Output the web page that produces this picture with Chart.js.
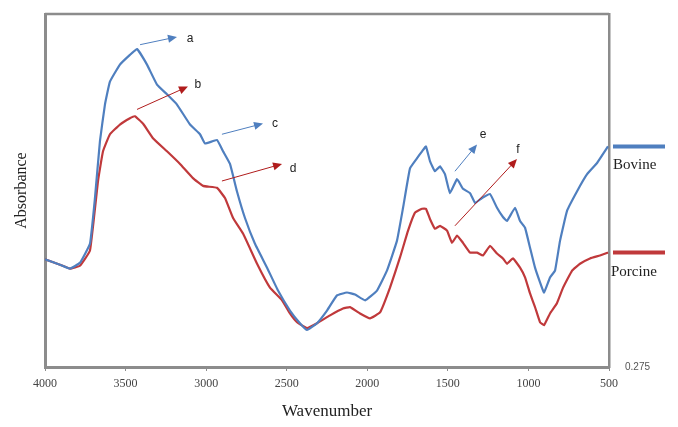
<!DOCTYPE html>
<html>
<head>
<meta charset="utf-8">
<script src="https://cdn.jsdelivr.net/npm/chart.js@4.4.1/dist/chart.umd.min.js"></script>
<style>
  html, body { margin: 0; padding: 0; background: #fff; }
  #wrap { width: 678px; height: 427px; }
</style>
</head>
<body>
<div id="wrap"><canvas id="ftir" width="678" height="427"></canvas></div>
<script>
// x : wavenumber (cm-1), y : absorbance
const bovineWn = [4000, 3907, 3845, 3783, 3721, 3690, 3659, 3628, 3597, 3535, 3473, 3429, 3367, 3305, 3243, 3181,
  3100, 3038, 3007, 2933, 2895, 2852, 2809, 2759, 2697, 2622, 2554, 2480, 2418, 2374, 2312, 2250, 2188, 2126,
  2076, 2014, 1940, 1878, 1816, 1778, 1735, 1691, 1660, 1636, 1611, 1580, 1549, 1518, 1487, 1443, 1406, 1362,
  1331, 1288, 1238, 1195, 1158, 1133, 1083, 1052, 1021, 990, 959, 928, 903, 866, 835, 804, 760, 698, 636, 574, 506];
const bovineAbs = [0.496, 0.485, 0.477, 0.489, 0.528, 0.622, 0.739, 0.814, 0.861, 0.896, 0.916, 0.928, 0.896, 0.855,
  0.835, 0.814, 0.773, 0.753, 0.734, 0.741, 0.718, 0.692, 0.636, 0.581, 0.528, 0.479, 0.432, 0.391, 0.365, 0.351,
  0.365, 0.391, 0.422, 0.428, 0.424, 0.412, 0.432, 0.473, 0.534, 0.602, 0.683, 0.704, 0.718, 0.728, 0.698, 0.677,
  0.687, 0.671, 0.632, 0.661, 0.641, 0.632, 0.612, 0.622, 0.630, 0.602, 0.583, 0.575, 0.602, 0.575, 0.561, 0.520,
  0.479, 0.449, 0.428, 0.459, 0.473, 0.534, 0.596, 0.636, 0.671, 0.694, 0.728];

const porcineWn = [4000, 3907, 3845, 3783, 3721, 3671, 3640, 3597, 3535, 3473, 3442, 3392, 3330, 3243, 3162, 3082,
  3019, 2933, 2883, 2833, 2771, 2684, 2604, 2529, 2480, 2436, 2374, 2312, 2231, 2151, 2107, 2045, 1983, 1921,
  1859, 1797, 1747, 1704, 1660, 1636, 1611, 1580, 1549, 1505, 1474, 1443, 1406, 1362, 1319, 1282, 1238, 1195,
  1158, 1133, 1096, 1052, 1021, 990, 959, 928, 903, 866, 823, 785, 729, 680, 618, 556, 506];
const porcineAbs = [0.496, 0.485, 0.477, 0.483, 0.514, 0.657, 0.718, 0.753, 0.773, 0.786, 0.790, 0.775, 0.745, 0.718,
  0.692, 0.663, 0.647, 0.643, 0.622, 0.581, 0.549, 0.487, 0.438, 0.412, 0.385, 0.367, 0.355, 0.365, 0.381, 0.395,
  0.398, 0.385, 0.375, 0.387, 0.438, 0.500, 0.555, 0.592, 0.600, 0.600, 0.579, 0.559, 0.565, 0.555, 0.530, 0.545,
  0.530, 0.510, 0.510, 0.504, 0.524, 0.508, 0.498, 0.487, 0.498, 0.479, 0.459, 0.426, 0.398, 0.367, 0.361, 0.385,
  0.406, 0.438, 0.473, 0.487, 0.498, 0.504, 0.510];

const xTicks = [4000, 3500, 3000, 2500, 2000, 1500, 1000, 500];
const yLabel = "0.275";
const seriesNames = ["Bovine", "Porcine"];
const seriesColors = ["#4f7fbf", "#c0393b"];

// band labels : letter, series, arrow start, arrow end, letter position
const bandLabels = ["a", "b", "c", "d", "e", "f"];
const bandSeries = [0, 1, 0, 1, 0, 1];
const bandFrom = [[3410, 0.937], [3429, 0.804], [2902, 0.753], [2902, 0.657], [1456, 0.677], [1456, 0.565]];
const bandTo = [[3181, 0.953], [3113, 0.851], [2647, 0.775], [2529, 0.692], [1319, 0.732], [1071, 0.702]];
const bandText = [[3100, 0.949], [3051, 0.855], [2573, 0.775], [2461, 0.683], [1282, 0.753], [1065, 0.722]];

function toPoints(xs, ys) {
  return xs.map(function(x, i) { return { x: x, y: ys[i] }; });
}

const frameColor = "#8c8c8c";

const decorPlugin = {
  id: "decor",
  afterDatasetsDraw: function(chart) {
    const ctx = chart.ctx;
    const area = chart.chartArea;
    const xs = chart.scales.x;
    const ys = chart.scales.y;

    // top frame line
    ctx.save();
    ctx.strokeStyle = frameColor;
    ctx.lineWidth = 2.5;
    ctx.beginPath();
    ctx.moveTo(area.left, area.top);
    ctx.lineTo(area.right, area.top);
    ctx.stroke();

    // arrows + letters
    ctx.font = "12px 'Liberation Sans', Arial, sans-serif";
    ctx.textAlign = "center";
    ctx.textBaseline = "middle";
    bandLabels.forEach(function(lab, i) {
      const col = bandSeries[i] === 0 ? "#4f7fbf" : "#b01c1c";
      const x1 = xs.getPixelForValue(bandFrom[i][0]), y1 = ys.getPixelForValue(bandFrom[i][1]);
      const x2 = xs.getPixelForValue(bandTo[i][0]), y2 = ys.getPixelForValue(bandTo[i][1]);
      const ang = Math.atan2(y2 - y1, x2 - x1);
      ctx.strokeStyle = col;
      ctx.fillStyle = col;
      ctx.lineWidth = 1;
      ctx.beginPath();
      ctx.moveTo(x1, y1);
      ctx.lineTo(x2 - 7 * Math.cos(ang), y2 - 7 * Math.sin(ang));
      ctx.stroke();
      ctx.beginPath();
      ctx.moveTo(x2, y2);
      ctx.lineTo(x2 - 9 * Math.cos(ang) + 4 * Math.sin(ang), y2 - 9 * Math.sin(ang) - 4 * Math.cos(ang));
      ctx.lineTo(x2 - 9 * Math.cos(ang) - 4 * Math.sin(ang), y2 - 9 * Math.sin(ang) + 4 * Math.cos(ang));
      ctx.closePath();
      ctx.fill();
      ctx.fillStyle = "#222";
      ctx.fillText(lab, xs.getPixelForValue(bandText[i][0]), ys.getPixelForValue(bandText[i][1]));
    });

    // legend at the end of each curve
    ctx.font = "15px 'Liberation Serif', 'Times New Roman', serif";
    ctx.textAlign = "left";
    ctx.textBaseline = "middle";
    chart.data.datasets.forEach(function(ds, i) {
      const last = ds.data[ds.data.length - 1];
      const y = ys.getPixelForValue(last.y);
      ctx.strokeStyle = seriesColors[i];
      ctx.lineWidth = 4;
      ctx.beginPath();
      ctx.moveTo(area.right + 4, y);
      ctx.lineTo(area.right + 56, y);
      ctx.stroke();
      ctx.fillStyle = "#222";
      ctx.fillText(ds.label, area.right + (i === 0 ? 4 : 2), y + 19);
    });
    ctx.restore();
  }
};

new Chart(document.getElementById("ftir").getContext("2d"), {
  type: "line",
  data: {
    datasets: [{
      label: seriesNames[0],
      data: toPoints(bovineWn, bovineAbs),
      borderColor: seriesColors[0],
      borderWidth: 2.2,
      pointRadius: 0,
      tension: 0.1,
      fill: false
    }, {
      label: seriesNames[1],
      data: toPoints(porcineWn, porcineAbs),
      borderColor: seriesColors[1],
      borderWidth: 2.2,
      pointRadius: 0,
      tension: 0.1,
      fill: false
    }]
  },
  options: {
    responsive: false,
    animation: false,
    devicePixelRatio: 1,
    layout: { padding: { top: 12, left: 0, right: 0, bottom: 0 } },
    plugins: {
      legend: { display: false },
      tooltip: { enabled: false }
    },
    scales: {
      x: {
        type: "linear",
        reverse: true,
        min: 500,
        max: 4000,
        afterBuildTicks: function(axis) {
          axis.ticks = xTicks.map(function(v) { return { value: v }; });
        },
        afterFit: function(axis) { axis.height = 60; },
        grid: { display: true, drawOnChartArea: false, drawTicks: true, tickLength: 4, color: frameColor },
        border: { display: true, color: frameColor, width: 3 },
        ticks: {
          color: "#444",
          font: { family: "'Liberation Serif', 'Times New Roman', serif", size: 12 },
          padding: 6,
          maxRotation: 0,
          callback: function(v) { return String(v); }
        },
        title: {
          display: true,
          text: "Wavenumber",
          color: "#222",
          font: { family: "'Liberation Serif', 'Times New Roman', serif", size: 17 },
          padding: { top: 0, bottom: 5 }
        }
      },
      y: {
        position: "left",
        min: 0.275,
        max: 1.0,
        afterFit: function(axis) { axis.width = 45; },
        grid: { display: false },
        border: { display: true, color: frameColor, width: 3 },
        ticks: { display: false },
        title: {
          display: true,
          text: "Absorbance",
          color: "#222",
          font: { family: "'Liberation Serif', 'Times New Roman', serif", size: 16 },
          padding: { top: 12, bottom: 0 }
        }
      },
      y2: {
        position: "right",
        min: 0.275,
        max: 1.0,
        afterBuildTicks: function(axis) { axis.ticks = [{ value: 0.275 }]; },
        afterFit: function(axis) { axis.width = 69; },
        grid: { display: false },
        border: { display: true, color: frameColor, width: 2.5 },
        ticks: {
          color: "#555",
          font: { family: "'Liberation Sans', Arial, sans-serif", size: 10 },
          padding: 8,
          callback: function() { return yLabel; }
        }
      }
    }
  },
  plugins: [decorPlugin]
});
</script>
</body>
</html>
